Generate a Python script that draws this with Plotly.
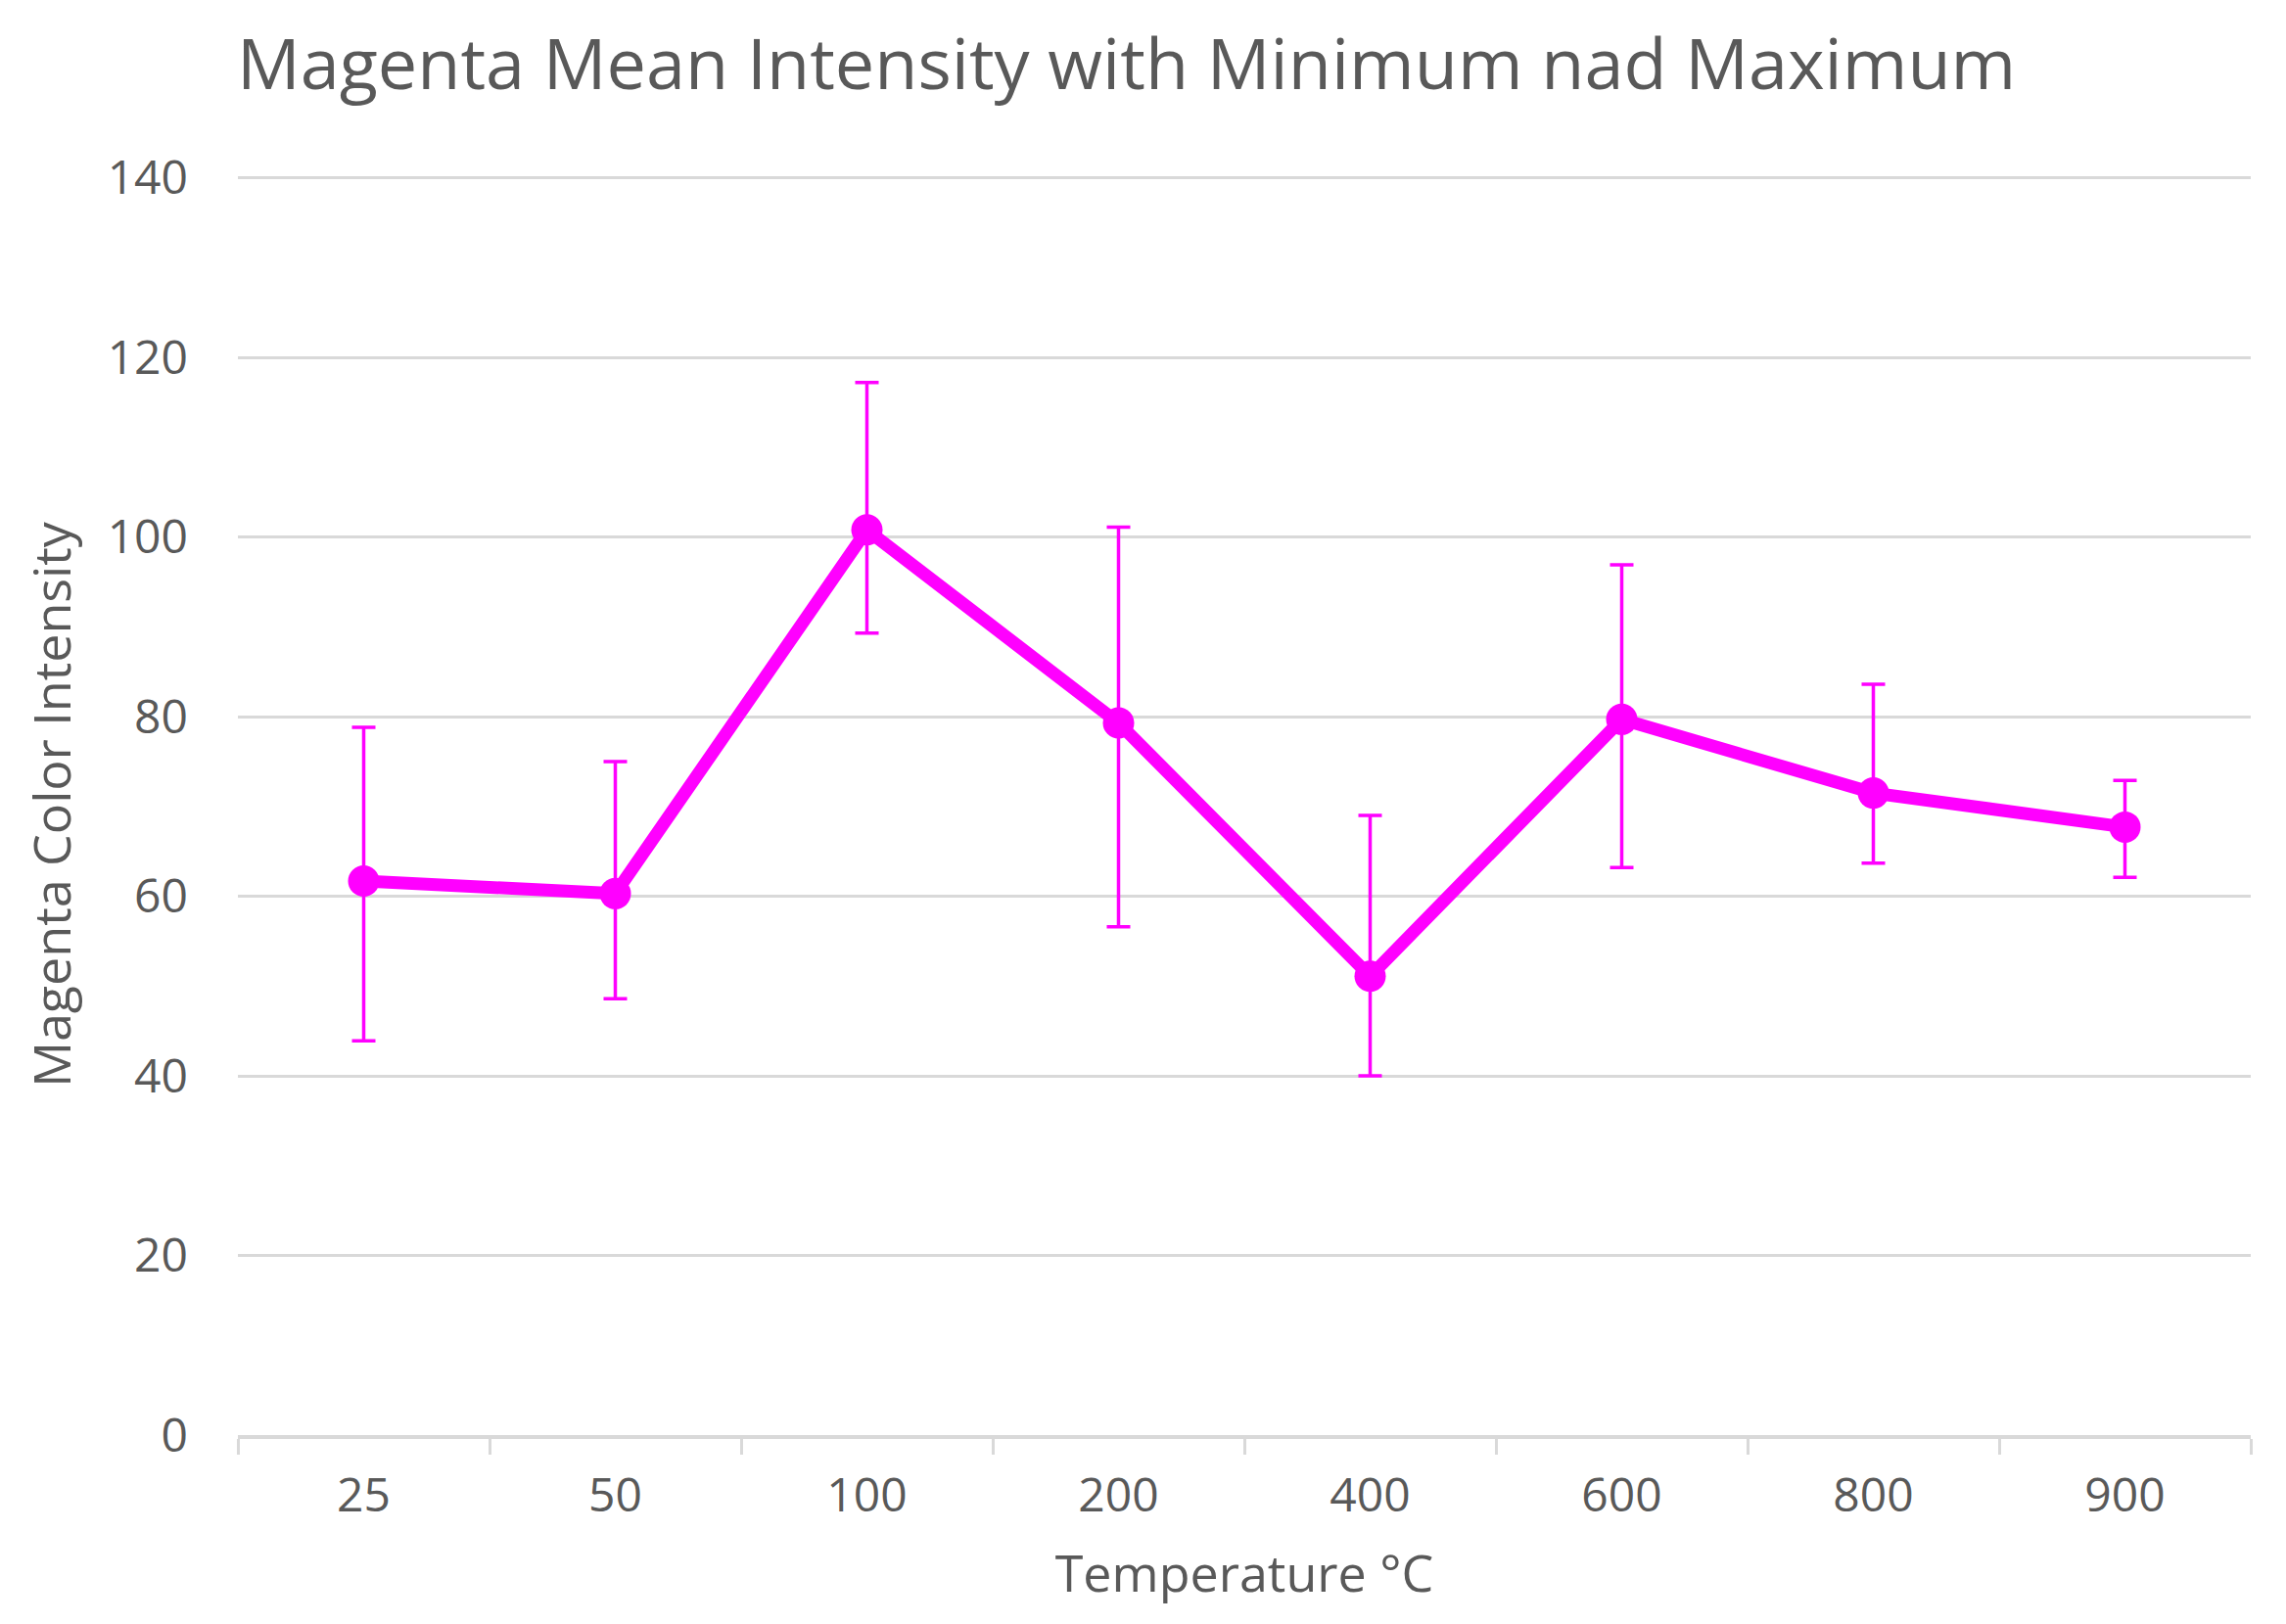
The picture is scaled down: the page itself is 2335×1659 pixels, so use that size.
import plotly.graph_objects as go

temperatures = ["25", "50", "100", "200", "400", "600", "800", "900"]
mean_intensity = [61.7, 60.3, 100.8, 79.3, 51.1, 79.7, 71.5, 67.7]
max_intensity = [78.8, 75.0, 117.2, 101.1, 69.0, 96.9, 83.6, 72.9]
min_intensity = [43.9, 48.6, 89.3, 56.6, 40.0, 63.2, 63.7, 62.1]

err_plus = [mx - m for mx, m in zip(max_intensity, mean_intensity)]
err_minus = [m - mn for m, mn in zip(mean_intensity, min_intensity)]

MAGENTA = "#FF00FF"
TEXT = "#595959"
GRID = "#D9D9D9"
FONT = "Open Sans"

W, H = 2335, 1659

fig = go.Figure()
fig.add_trace(go.Scatter(
    x=temperatures,
    y=mean_intensity,
    mode="lines+markers",
    line=dict(color=MAGENTA, width=13),
    marker=dict(color=MAGENTA, size=32),
    error_y=dict(type="data", symmetric=False, array=err_plus, arrayminus=err_minus,
                 color=MAGENTA, thickness=3.5, width=12),
    showlegend=False,
))

fig.update_layout(
    width=W, height=H,
    paper_bgcolor="white", plot_bgcolor="white",
    margin=dict(l=235, r=44, t=170, b=201),
    font=dict(family=FONT, color=TEXT, size=48),
    title=dict(text="Magenta Mean Intensity with Minimum nad Maximum",
               font=dict(family=FONT, size=72, color=TEXT),
               xref="container", x=234 / W, xanchor="left",
               yref="container", y=1 - 58 / H, yanchor="middle"),
)

fig.update_xaxes(
    type="category",
    range=[-0.5, 7.5],
    showgrid=False,
    showline=True, linecolor=GRID, linewidth=4,
    ticks="outside", tickson="boundaries", ticklen=16, tickcolor=GRID, tickwidth=3,
    tickfont=dict(size=48, color=TEXT),
    ticklabelstandoff=16,
    title=dict(text="Temperature °C", font=dict(size=52, color=TEXT), standoff=34),
)

fig.update_yaxes(
    range=[0, 140.4], tickvals=[0, 20, 40, 60, 80, 100, 120, 140],
    showgrid=True, gridcolor=GRID, gridwidth=3,
    zeroline=False, showline=False, ticks="",
    tickfont=dict(size=48, color=TEXT),
    ticklabelstandoff=50,
    title=dict(text="Magenta Color Intensity", font=dict(size=52, color=TEXT), standoff=20),
)

fig.write_html("out.html")
